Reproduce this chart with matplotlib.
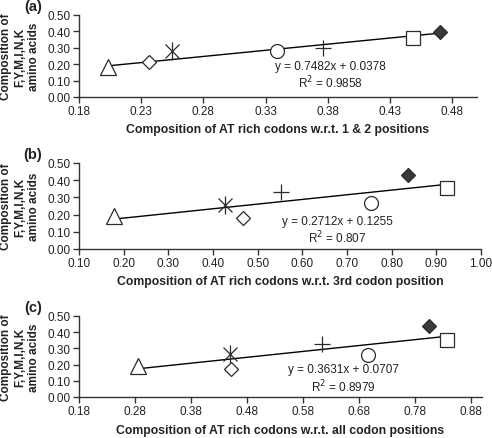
import numpy as np
import matplotlib.pyplot as plt

plt.rcParams['font.family'] = ['Liberation Sans', 'DejaVu Sans']

# marker order: triangle, diamond, star, circle, plus, square, filled diamond
x_a = [0.203, 0.2365, 0.255, 0.339, 0.376, 0.4486, 0.470]
y_a = [0.183, 0.213, 0.280, 0.280, 0.300, 0.360, 0.396]
x_b = [0.178, 0.467, 0.427, 0.754, 0.552, 0.924, 0.837]
y_b = [0.190, 0.180, 0.256, 0.270, 0.330, 0.355, 0.430]
x_c = [0.285, 0.452, 0.449, 0.696, 0.614, 0.837, 0.805]
y_c = [0.190, 0.170, 0.265, 0.260, 0.325, 0.350, 0.440]

fits = [(0.7482, 0.0378, "0.9858"), (0.2712, 0.1255, "0.807"), (0.3631, 0.0707, "0.8979")]
xlabels = ["Composition of AT rich codons w.r.t. 1 & 2 positions",
           "Composition of AT rich codons w.r.t. 3rd codon position",
           "Composition of AT rich codons w.r.t. all codon positions"]
panel_names = ["(a)", "(b)", "(c)"]
xticks_list = [[0.18, 0.23, 0.28, 0.33, 0.38, 0.43, 0.48],
               [0.10, 0.20, 0.30, 0.40, 0.50, 0.60, 0.70, 0.80, 0.90, 1.00],
               [0.18, 0.28, 0.38, 0.48, 0.58, 0.68, 0.78, 0.88]]
xlims = [(0.18, 0.50), (0.10, 1.00), (0.18, 0.90)]
yticks = [0.0, 0.1, 0.2, 0.3, 0.4, 0.5]

W, H = 492, 439
# axes boxes in pixels: left, right, top, bottom
boxes = [(79, 477, 16, 98), (79, 481, 164, 250), (79, 482, 317, 398)]
eq_pos = [(330, 67, 83), (337, 222, 238), (343, 370, 387)]
xlabel_y = [130, 282, 431]

fig = plt.figure(figsize=(W / 100, H / 100), dpi=100)
col = '#2b2b2b'

for i, (xs, ys) in enumerate([(x_a, y_a), (x_b, y_b), (x_c, y_c)]):
    l, r, t, b = boxes[i]
    ax = fig.add_axes([l / W, 1 - b / H, (r - l) / W, (b - t) / H])
    xs = np.array(xs)
    ys = np.array(ys)
    m, c, r2 = fits[i]
    xx = np.array([xs.min(), xs.max()])
    ax.plot(xx, m * xx + c, color='black', lw=1, zorder=1)

    kw = dict(ls='none', color=col, mfc='white', mew=0.9, ms=10, zorder=3)
    ax.plot(xs[0], ys[0], marker='^', **dict(kw, ms=11))
    ax.plot(xs[1], ys[1], marker='D', **dict(kw, ms=7.5))
    ax.plot(xs[2], ys[2], marker='x', **dict(kw, ms=10))
    ax.plot(xs[2], ys[2], marker='|', **dict(kw, ms=13))
    ax.plot(xs[3], ys[3], marker='o', **kw)
    ax.plot(xs[4], ys[4], marker='+', **dict(kw, ms=12))
    ax.plot(xs[5], ys[5], marker='s', **dict(kw, ms=9.5))
    ax.plot(xs[6], ys[6], marker='D', ls='none', color=col, mfc='#3a3a3a',
            mew=0.9, ms=7.5, zorder=3)

    ax.set_xlim(*xlims[i])
    ax.set_ylim(0, 0.5)
    ax.set_xticks(xticks_list[i])
    ax.set_xticklabels(["%.2f" % v for v in xticks_list[i]])
    ax.set_yticks(yticks)
    ax.set_yticklabels(["%.2f" % v for v in yticks])
    for s in ['top', 'right']:
        ax.spines[s].set_visible(False)
    for s in ['left', 'bottom']:
        ax.spines[s].set_color('#333333')
        ax.spines[s].set_linewidth(1)
    ax.tick_params(direction='out', length=4, width=1, colors='#333333',
                   labelsize=8.5, labelcolor='#222222', pad=2)

    fig.text((l + r) / 2 / W, 1 - xlabel_y[i] / H, xlabels[i], ha='center', va='center',
             fontsize=8.8, fontweight='bold', color='#222222')

    ex, ey1, ey2 = eq_pos[i]
    fig.text(ex / W, 1 - ey1 / H, "y = %.4fx + %.4f" % (m, c), ha='center', va='center',
             fontsize=8.5, color='#222222')
    fig.text(ex / W, 1 - ey2 / H, "R$^2$ = " + r2, ha='center', va='center',
             fontsize=8.5, color='#222222')

    fig.text(33 / W, 1 - (t - 9) / H, panel_names[i], ha='center', va='center',
             fontsize=10.5, fontweight='bold', color='#222222')
    fig.text(20 / W, 1 - ((t + b) / 2) / H, "Composition of\nF,Y,M,I,N,K\namino acids",
             rotation=90, ha='center', va='center', multialignment='center',
             fontsize=8.5, fontweight='bold', color='#222222', linespacing=1.2)

fig.savefig('out.png', dpi=100)
